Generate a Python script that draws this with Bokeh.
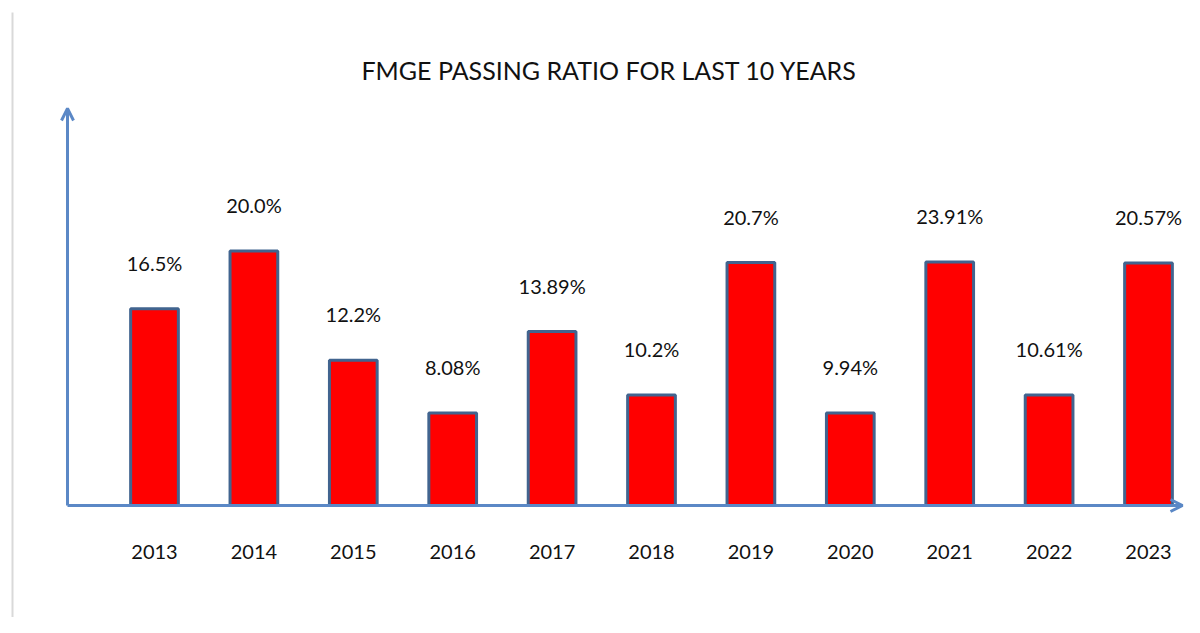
from bokeh.plotting import figure
from bokeh.models import Range1d, Arrow, OpenHead, ColumnDataSource
from bokeh.core.properties import value
from bokeh.embed import file_html
from bokeh.resources import INLINE

years = ["2013", "2014", "2015", "2016", "2017", "2018", "2019", "2020", "2021", "2022", "2023"]
ratio_labels = ["16.5%", "20.0%", "12.2%", "8.08%", "13.89%", "10.2%", "20.7%", "9.94%", "23.91%", "10.61%", "20.57%"]
# bar heights as drawn in the picture (percent scale)
bar_heights = [16.4, 21.2, 12.1, 7.7, 14.5, 9.2, 20.25, 7.7, 20.3, 9.2, 20.2]
title_text = "FMGE PASSING RATIO FOR LAST 10 YEARS"

W, H = 1184, 617
FONT = "Lato"
PX_X = 99.4   # pixels per category step
PX_Y = 12.0   # pixels per percent

xs = list(range(len(years)))
src = ColumnDataSource(dict(x=xs, top=bar_heights, lab=ratio_labels, year=years,
                            zero=[0] * len(years)))

X0 = -154 / PX_X
Y0 = -(H - 505) / PX_Y
X1 = X0 + W / PX_X
Y1 = Y0 + H / PX_Y
p = figure(width=W, height=H, output_backend="svg", toolbar_location=None,
           x_range=Range1d(X0, X1), y_range=Range1d(Y0, Y1),
           min_border=0, min_border_left=0, min_border_right=0,
           min_border_top=0, min_border_bottom=0)
p.axis.visible = False
p.grid.visible = False
p.outline_line_color = None
p.background_fill_color = "white"

# left gray rule
gx = X0 + 12 / PX_X
p.segment(x0=[gx], y0=[Y1 - 12 / PX_Y], x1=[gx], y1=[Y0],
          line_color="#D9D9D9", line_width=2)

# axes with arrows
axis_color = "#5B88C6"
ax = X0 + 67 / PX_X
p.add_layout(Arrow(end=OpenHead(size=12, line_color=axis_color, line_width=3),
                   x_start=ax, y_start=0, x_end=ax, y_end=Y1 - 108 / PX_Y,
                   line_color=axis_color, line_width=3))
p.add_layout(Arrow(end=OpenHead(size=12, line_color=axis_color, line_width=3),
                   x_start=ax, y_start=0, x_end=X1 - 2 / PX_X, y_end=0,
                   line_color=axis_color, line_width=3))

p.vbar(x="x", top="top", bottom=0, width=0.48, source=src,
       fill_color="#FF0000", line_color="#41648F", line_width=3)

p.text(x="x", y="top", text="lab", source=src, y_offset=-46,
       text_align="center", text_baseline="middle",
       text_font=value(FONT), text_font_size="20px", text_color="#111111")
p.text(x="x", y="zero", text="year", source=src, y_offset=46,
       text_align="center", text_baseline="middle",
       text_font=value(FONT), text_font_size="20px", text_color="#111111")

p.text(x=[X0 + 609 / PX_X], y=[Y1], text=[title_text], y_offset=69,
       text_align="center", text_baseline="middle",
       text_font=value(FONT), text_font_size="25px", text_color="#111111")

open("out.html", "w").write(file_html(p, INLINE))
